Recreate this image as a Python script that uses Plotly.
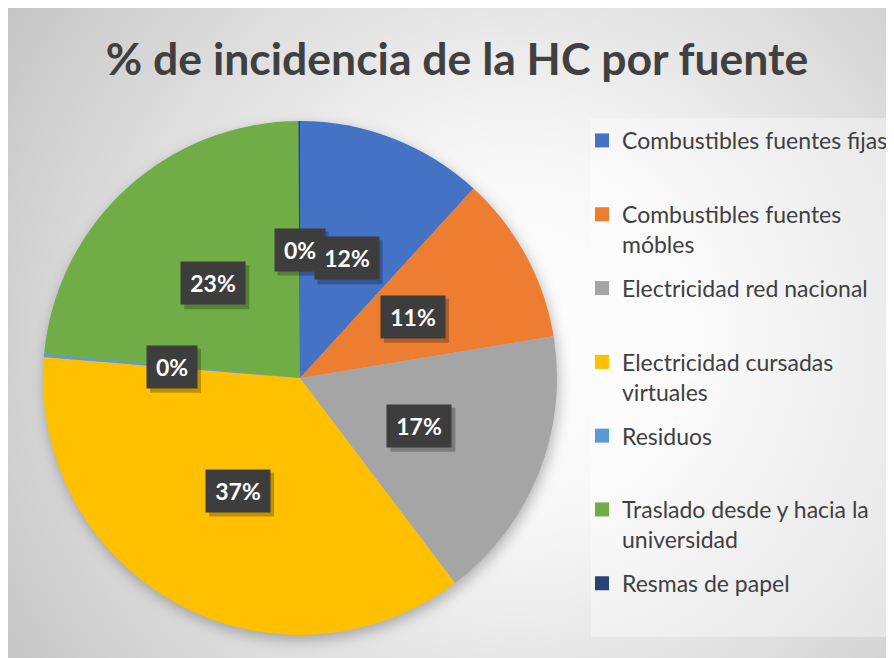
import base64
import math
import plotly.graph_objects as go

# ---------------- data ----------------
categories = [
    "Combustibles fuentes fijas",
    "Combustibles fuentes móbles",
    "Electricidad red nacional",
    "Electricidad cursadas virtuales",
    "Residuos",
    "Traslado desde y hacia la universidad",
    "Resmas de papel",
]
legend_labels = [
    "Combustibles fuentes fijas",
    "Combustibles fuentes<br>móbles",
    "Electricidad red nacional",
    "Electricidad cursadas<br>virtuales",
    "Residuos",
    "Traslado desde y hacia la<br>universidad",
    "Resmas de papel",
]
values = [11.8, 10.6, 17.3, 36.6, 0.2, 23.4, 0.1]
colors = ["#4472C4", "#ED7D31", "#A5A5A5", "#FFC000", "#5B9BD5", "#70AD47", "#264478"]
title_text = "% de incidencia de la HC por fuente"

# ---------------- geometry (figure px) ----------------
W, H = 894, 658
CX, CY, R = 292, 370, 257  # pie centre / radius in px
dom_x = [(CX - R) / W, (CX + R) / W]
dom_y = [(H - CY - R) / H, (H - CY + R) / H]
FONT = "Lato"
TXT = "#404040"

# background (radial gradient + soft pie shadow) as an SVG image
svg = f'''<svg xmlns="http://www.w3.org/2000/svg" width="{W}" height="{H}" viewBox="0 0 {W} {H}">
<defs>
<radialGradient id="g" gradientUnits="userSpaceOnUse" cx="510" cy="330" r="620">
<stop offset="0" stop-color="#ffffff"/>
<stop offset="0.3" stop-color="#f7f7f7"/>
<stop offset="1" stop-color="#c4c4c4"/>
</radialGradient>
<filter id="b" x="-20%" y="-20%" width="140%" height="140%"><feGaussianBlur stdDeviation="7"/></filter>
</defs>
<rect x="0" y="0" width="{W}" height="{H}" fill="url(#g)"/>
<circle cx="{CX + 2}" cy="{CY + 5}" r="{R}" fill="#000000" fill-opacity="0.28" filter="url(#b)"/>
</svg>'''
svg_uri = "data:image/svg+xml;base64," + base64.b64encode(svg.encode()).decode()

fig = go.Figure()
fig.add_trace(go.Pie(
    labels=categories,
    values=values,
    marker=dict(colors=colors, line=dict(width=0)),
    sort=False,
    direction="clockwise",
    rotation=0,
    textinfo="none",
    hoverinfo="label+percent",
    showlegend=False,
    domain=dict(x=dom_x, y=dom_y),
))

# legend entries (one group per category so spacing can be even)
for i, (lab, col) in enumerate(zip(legend_labels, colors)):
    txt = lab if "<br>" in lab else lab + "<br> "
    fig.add_trace(go.Scatter(
        x=[None], y=[None], mode="markers", name=txt,
        marker=dict(symbol="square", size=14, color=col),
        legendgroup=f"g{i}", showlegend=True, hoverinfo="skip",
    ))

# data labels at half radius along each slice's mid-angle
total = sum(values)
annotations = []
shapes = []
cum = 0.0
for v in values:
    mid = (cum + v / 2) / total * 2 * math.pi
    cum += v
    px = CX + 0.5 * R * math.sin(mid)
    py = CY - 0.5 * R * math.cos(mid)
    xp, yp = px / W, 1 - py / H
    lab = f"{round(v / total * 100):d}%"
    bw = 14 * len(lab) + 8
    shapes.append(dict(
        type="rect", xref="paper", yref="paper", layer="above",
        xsizemode="pixel", ysizemode="pixel", xanchor=xp, yanchor=yp,
        x0=-bw / 2 - 7 + 3, x1=bw / 2 + 7 + 4, y0=-21 - 5, y1=21 - 3,
        fillcolor="rgba(0,0,0,0.25)", line=dict(width=0),
    ))
    annotations.append(dict(
        x=xp, y=yp, xref="paper", yref="paper", text=f"<b>{lab}</b>",
        showarrow=False, font=dict(family=FONT, size=23, color="#ffffff"),
        bgcolor="#3d3d3d", borderpad=7, width=bw, height=28,
        xanchor="center", yanchor="middle",
    ))

# legend backing panel
shapes.insert(0, dict(
    type="rect", xref="paper", yref="paper", layer="below",
    x0=583 / W, x1=882 / W, y0=1 - 629 / H, y1=1 - 110 / H,
    fillcolor="rgba(255,255,255,0.38)", line=dict(width=0),
))

fig.update_layout(
    width=W, height=H,
    margin=dict(l=0, r=0, t=0, b=0),
    paper_bgcolor="#ffffff",
    plot_bgcolor="rgba(0,0,0,0)",
    xaxis=dict(visible=False), yaxis=dict(visible=False),
    title=dict(text=f"<b>{title_text}</b>", x=449 / W, xanchor="center",
               y=1 - 51 / H, yanchor="middle", yref="container",
               font=dict(family=FONT, size=44.5, color=TXT)),
    legend=dict(
        x=574 / W, y=1 - 111 / H, xanchor="left", yanchor="top",
        bgcolor="rgba(0,0,0,0)", borderwidth=0,
        font=dict(family=FONT, size=23, color=TXT),
        valign="top", traceorder="grouped", tracegroupgap=11,
        itemclick=False, itemdoubleclick=False,
    ),
    images=[dict(source=svg_uri, xref="paper", yref="paper", x=0, y=1,
                 sizex=1, sizey=1, xanchor="left", yanchor="top",
                 sizing="stretch", layer="below")],
    annotations=annotations,
    shapes=shapes,
)

fig.write_html("out.html")
